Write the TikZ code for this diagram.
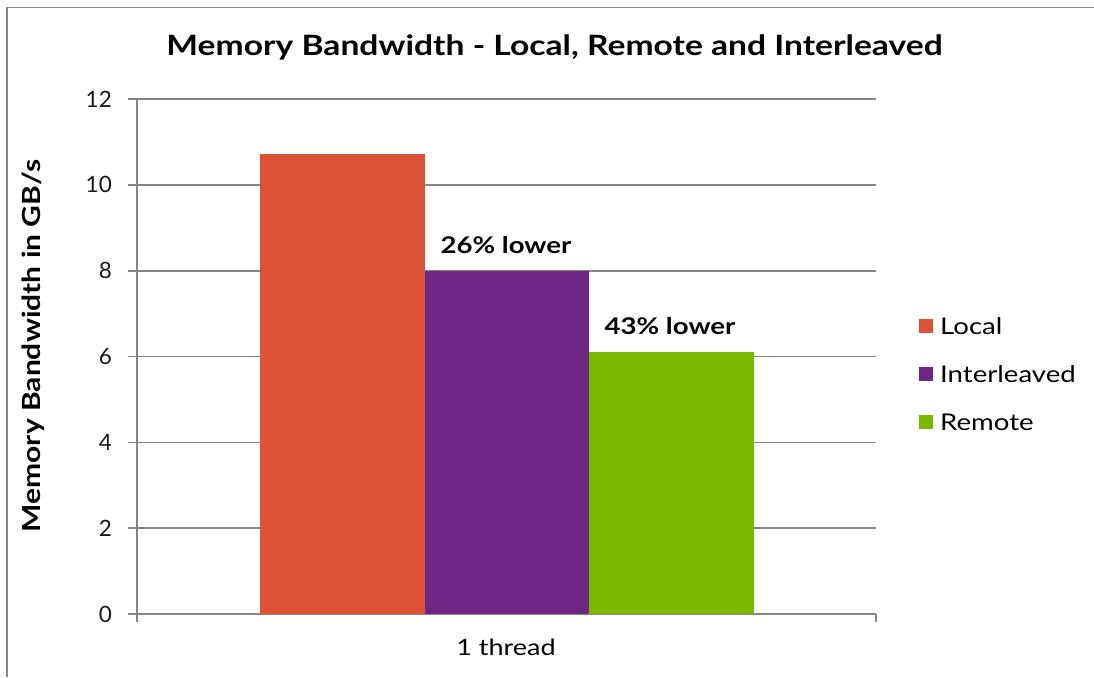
\documentclass[tikz,border=0pt]{standalone}
\usepackage{fontspec}
\setmainfont[FakeStretch=1.2]{Lato}
\newfontfamily\plainfont{Lato}
\definecolor{localc}{RGB}{221,81,53}
\definecolor{interc}{RGB}{111,38,132}
\definecolor{remotec}{RGB}{122,184,0}
\definecolor{gridc}{RGB}{134,134,134}
\begin{document}
\begin{tikzpicture}[x=1pt,y=-1pt,
  grid/.style={draw=gridc,line width=1.6pt},
  ticklab/.style={anchor=east,font=\plainfont\fontsize{22.5}{24}\selectfont,text=black!90,inner sep=0pt},
  barlab/.style={font=\bfseries\fontsize{23}{26}\selectfont,inner sep=0pt},
  legsq/.style={fill=#1,minimum size=14pt,inner sep=0pt},
  legtext/.style={anchor=west,font=\fontsize{23}{26}\selectfont,inner sep=0pt}]
\useasboundingbox (0,0) rectangle (1094,677);
\fill[white] (0,0) rectangle (1094,677);
% outer frame (top and left)
\draw[draw=gridc,line width=1.6pt] (7,677) -- (7,7.5) -- (1094,7.5);
% title
\node[font=\bfseries\fontsize{28}{32}\selectfont] (title) at (554.5,47) {Memory Bandwidth - Local, Remote and Interleaved};
% gridlines and ticks
\foreach \v/\yy in {0/614,2/528,4/442.3,6/356.5,8/270.7,10/184.9,12/99.1}{
  \draw[grid] (128,\yy) -- (876,\yy);
  \node[ticklab] at (112,\yy) {\v};
}
\draw[grid] (137,99.1) -- (137,622);
\draw[grid] (876,614) -- (876,622);
% bars
\fill[localc] (260,614) rectangle (424.5,154);
\fill[interc] (424.5,614) rectangle (589,270.7);
\fill[remotec] (589,614) rectangle (754,352);
% bar labels
\node[barlab] (l26) at (506,245) {26\% lower};
\node[barlab] (l43) at (670,326) {43\% lower};
% axis titles
\node[font=\bfseries\fontsize{25}{28}\selectfont,rotate=90] (ytitle) at (33,346) {Memory Bandwidth in GB/s};
\node[font=\fontsize{22.5}{24}\selectfont] (xcat) at (506,647) {1 thread};
% legend
\node[legsq=localc] (sq1) at (926,326) {};
\node[legsq=interc] (sq2) at (926,374) {};
\node[legsq=remotec] (sq3) at (926,422) {};
\node[legtext] (t1) at (940,326) {Local};
\node[legtext] (t2) at (940,374) {Interleaved};
\node[legtext] (t3) at (940,422) {Remote};
\end{tikzpicture}
\end{document}
